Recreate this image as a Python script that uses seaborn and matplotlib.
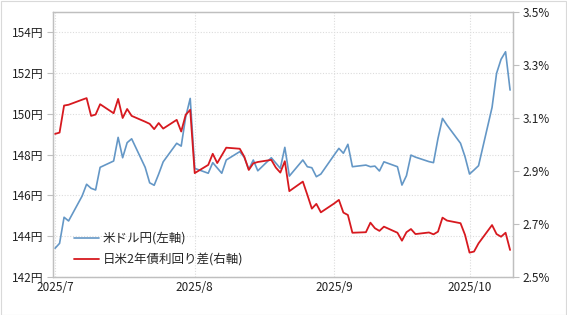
import matplotlib
matplotlib.use("Agg")
import matplotlib.pyplot as plt
import seaborn as sns
import pandas as pd
import numpy as np

# ---------------- data ----------------
usdjpy_dates = ["2025-07-01","2025-07-02","2025-07-03","2025-07-04","2025-07-07","2025-07-08",
    "2025-07-09","2025-07-10","2025-07-11","2025-07-14","2025-07-15","2025-07-16","2025-07-17",
    "2025-07-18","2025-07-21","2025-07-22","2025-07-23","2025-07-24","2025-07-25","2025-07-28",
    "2025-07-29","2025-07-30","2025-07-31","2025-08-01","2025-08-04","2025-08-05","2025-08-06",
    "2025-08-07","2025-08-08","2025-08-11","2025-08-12","2025-08-13","2025-08-14","2025-08-15",
    "2025-08-18","2025-08-19","2025-08-20","2025-08-21","2025-08-22","2025-08-25","2025-08-26",
    "2025-08-27","2025-08-28","2025-08-29","2025-09-01","2025-09-02","2025-09-03","2025-09-04",
    "2025-09-05","2025-09-08","2025-09-09","2025-09-10","2025-09-11","2025-09-12","2025-09-15",
    "2025-09-16","2025-09-17","2025-09-18","2025-09-19","2025-09-22","2025-09-23","2025-09-24",
    "2025-09-25","2025-09-26","2025-09-29","2025-09-30","2025-10-01","2025-10-02","2025-10-03",
    "2025-10-06","2025-10-07","2025-10-08","2025-10-09","2025-10-10"]
usdjpy = [143.41,143.65,144.93,144.75,145.97,146.55,
    146.35,146.27,147.38,147.69,148.85,147.85,148.59,
    148.78,147.38,146.62,146.50,147.05,147.65,148.56,
    148.42,149.86,150.76,147.33,147.09,147.61,147.35,
    147.09,147.74,148.15,147.87,147.28,147.74,147.21,
    147.85,147.59,147.33,148.36,146.95,147.74,147.41,
    147.36,146.92,147.05,148.00,148.31,148.07,148.51,
    147.41,147.49,147.41,147.44,147.20,147.65,147.41,
    146.51,146.97,147.98,147.88,147.66,147.61,148.80,
    149.78,149.45,148.56,147.90,147.05,147.25,147.46,
    150.32,151.99,152.68,153.05,151.17]

spread_dates = usdjpy_dates
spread = [3.040,3.045,3.147,3.150,3.169,3.175,
    3.108,3.113,3.152,3.118,3.172,3.100,3.134,
    3.108,3.086,3.078,3.058,3.081,3.060,3.093,
    3.049,3.112,3.131,2.892,2.923,2.965,2.930,
    2.959,2.988,2.984,2.954,2.904,2.929,2.934,
    2.942,2.913,2.894,2.937,2.824,2.860,2.810,
    2.758,2.776,2.744,2.778,2.791,2.743,2.734,
    2.667,2.669,2.705,2.684,2.674,2.690,2.667,
    2.637,2.669,2.681,2.662,2.668,2.661,2.671,
    2.724,2.713,2.703,2.659,2.592,2.596,2.627,
    2.696,2.662,2.652,2.667,2.602]

left_ticks = [142, 144, 146, 148, 150, 152, 154]
left_labels = [f"{v}円" for v in left_ticks]
right_ticks = [2.5, 2.7, 2.9, 3.1, 3.3, 3.5]
right_labels = [f"{v:.1f}%" for v in right_ticks]
x_tick_dates = ["2025-07-01", "2025-08-01", "2025-09-01", "2025-10-01"]
x_tick_labels = ["2025/7", "2025/8", "2025/9", "2025/10"]
label_usdjpy = "米ドル円(左軸)"
label_spread = "日米2年債利回り差(右軸)"

# ---------------- plot ----------------
sns.set_style("white")
plt.rcParams['font.family'] = ['Noto Sans CJK JP', 'DejaVu Sans']

df1 = pd.DataFrame({"date": pd.to_datetime(usdjpy_dates), "v": usdjpy})
df2 = pd.DataFrame({"date": pd.to_datetime(spread_dates), "v": spread})

fig = plt.figure(figsize=(5.67, 3.15), dpi=100)
ax = fig.add_axes([53/567, 1-277/315, (512.7-53)/567, (277-12)/315])
ax2 = ax.twinx()

blue = "#6497C6"
red = "#D7191F"
gridc = "#DCDCDC"
spinec = "#BFBFBF"

sns.lineplot(data=df1, x="date", y="v", ax=ax, color=blue, linewidth=1.2, label=label_usdjpy, legend=False)
sns.lineplot(data=df2, x="date", y="v", ax=ax2, color=red, linewidth=1.3, label=label_spread, legend=False)

ax.set_ylim(142, 155)
ax2.set_ylim(2.5, 3.5)
ax.set_xlim(pd.Timestamp("2025-07-01") - pd.Timedelta(hours=11),
            pd.Timestamp("2025-10-10") + pd.Timedelta(hours=14))

ax.set_yticks(left_ticks)
ax.set_yticklabels(left_labels)
ax2.set_yticks(right_ticks)
ax2.set_yticklabels(right_labels)
ax.set_xticks(pd.to_datetime(x_tick_dates))
ax.set_xticklabels(x_tick_labels)

for a in (ax, ax2):
    a.set_xlabel("")
    a.set_ylabel("")
    for s in a.spines.values():
        s.set_color(spinec)
        s.set_linewidth(0.9)

ax.tick_params(axis="y", length=4, width=0.8, color=spinec, pad=3, labelsize=8.5, labelcolor="#222222")
ax2.tick_params(axis="y", length=4, width=0.8, color=spinec, pad=3, labelsize=8.5, labelcolor="#222222")
ax.tick_params(axis="x", length=0, pad=3, labelsize=8.5, labelcolor="#222222")

ax.grid(True, axis="y", color=gridc, linestyle=(0, (1, 1.5)), linewidth=0.8)
ax.grid(True, axis="x", color=gridc, linestyle=(0, (1, 1.5)), linewidth=0.8)
ax.set_axisbelow(True)

h1, l1 = ax.get_legend_handles_labels()
h2, l2 = ax2.get_legend_handles_labels()
leg = ax2.legend(h1 + h2, l1 + l2, loc="lower left", bbox_to_anchor=(0.035, 0.022),
                 frameon=False, fontsize=9, handlelength=2.0, handletextpad=0.3,
                 labelspacing=0.65, borderaxespad=0)

fig.patches.append(plt.Rectangle((0.001, 0.001), 0.997, 0.997, transform=fig.transFigure,
                                 fill=False, edgecolor="#D9D9D9", linewidth=0.8))

fig.savefig("out.png", dpi=100)
